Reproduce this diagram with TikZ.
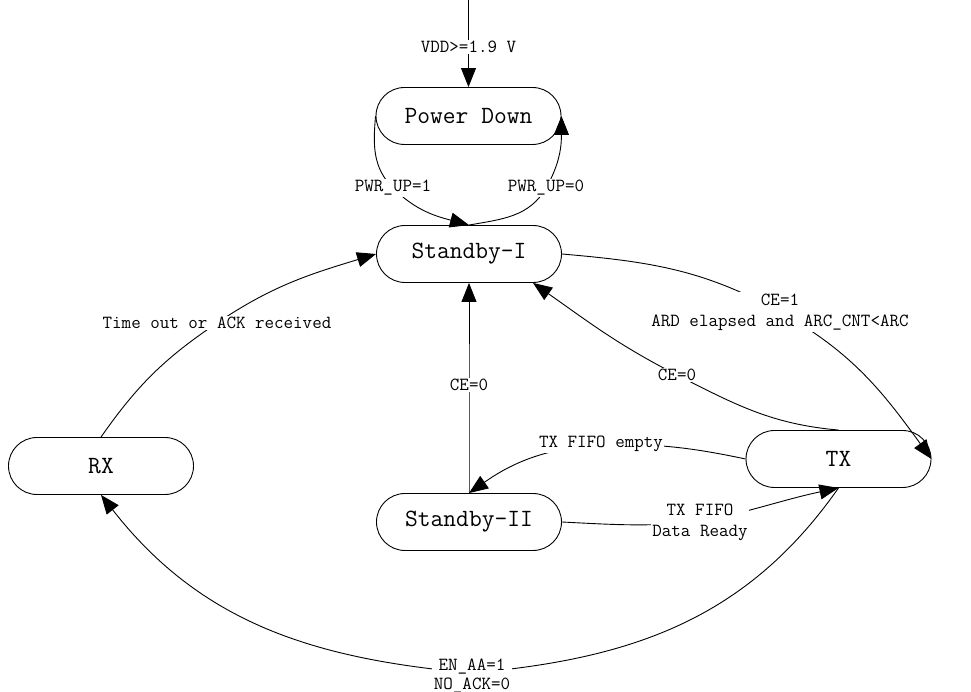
\documentclass[tikz,border=0pt]{standalone}
\usetikzlibrary{arrows.meta,shapes.misc}
\begin{document}
\begin{tikzpicture}[x=1pt,y=1pt,
  state/.style={draw,line width=0.9pt,rounded rectangle,minimum width=185pt,minimum height=57pt,inner sep=0pt,font=\fontsize{24.8}{28}\selectfont\ttfamily},
  lbl/.style={fill=white,inner sep=1.5pt,align=center,font=\fontsize{18.5}{21}\selectfont\ttfamily},
  conn/.style={line width=0.9pt,-{Triangle[length=19pt,width=15pt]}}]
\fill[white] (0,0) rectangle (971,692);
\useasboundingbox (0,0) rectangle (971,692);

\node[state] (pd)  at (468.5,576) {Power Down};
\node[state] (sb1) at (469,438)   {Standby-I};
\node[state] (sb2) at (469,170)   {Standby-II};
\node[state] (rx)  at (101,226)   {RX};
\node[state] (tx)  at (838.5,233) {TX};
\coordinate (src) at (468.5,692);

% power on
\draw[conn] (src) -- (468.5,645) node[lbl]{VDD>=1.9 V} -- (pd.north);

% Power Down <-> Standby-I
\draw[conn] (pd.west) to[out=-95,in=135] (393,504) node[lbl]{PWR\_UP=1}
  to[out=-45,in=165] (sb1.north);
\draw[conn] (sb1.north) to[out=10,in=-120] (546,504) node[lbl]{PWR\_UP=0}
  to[out=60,in=-90] (pd.east);

% RX -> Standby-I
\draw[conn] (rx.north) to[out=55,in=214] (217,369) node[lbl]{Time out or ACK received}
  to[out=34,in=197] (sb1.west);

% Standby-I -> TX
\draw[conn] (sb1.east) to[out=-5,in=151] (780,380) node[lbl]{CE=1\\ARD elapsed and ARC\_CNT<ARC}
  to[out=-29,in=126] (tx.east);

% TX -> Standby-I
\draw[conn] (tx.north) to[out=175,in=-27] (677,317) node[lbl]{CE=0}
  to[out=153,in=-35] (sb1.south east);

% Standby-II -> Standby-I
\draw[conn] (sb2.north) -- (469,307) node[lbl]{CE=0} -- (sb1.south);

% TX -> Standby-II
\draw[conn] (tx.west) to[out=168,in=0] (601,248) node[lbl]{TX FIFO empty}
  to[out=185,in=35] (sb2.north);

% Standby-II -> TX
\draw[conn] (sb2.east) to[out=-3,in=185] (700,170) node[lbl]{TX FIFO\\Data Ready}
  to[out=12,in=-168] (tx.south);

% TX -> RX
\draw[conn] (tx.south) to[out=-125,in=5] (472,19)
  node[lbl,yshift=-3pt,font=\fontsize{18.5}{19}\selectfont\ttfamily]{EN\_AA=1\\NO\_ACK=0}
  to[out=175,in=-52] (rx.south);
\end{tikzpicture}
\end{document}
